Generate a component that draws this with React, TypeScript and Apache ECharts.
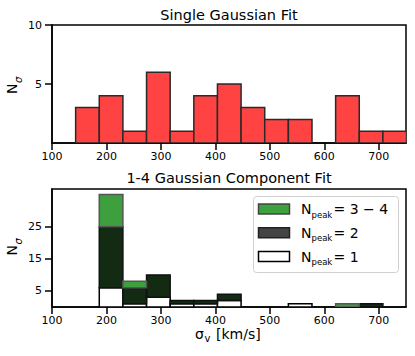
import React, { useEffect, useRef } from "react";
import * as echarts from "echarts";

// ---- data ----
const binStart = 143.4;
const binWidth = 43.4;
const singleCounts = [3, 4, 1, 6, 1, 4, 5, 3, 2, 2, 0, 4, 1, 1];
const npeak1 = [0, 6, 1, 3, 1, 1, 2, 0, 0, 1, 0, 0, 0, 0];
const npeak2 = [0, 19, 5, 7, 1, 1, 2, 0, 0, 0, 0, 0, 1, 0];
const npeak34 = [0, 10, 2, 0, 0, 0, 0, 0, 0, 0, 0, 1, 0, 0];
const xTicks = [100, 200, 300, 400, 500, 600, 700];
const topYTicks = [5, 10];
const bottomYTicks = [5, 15, 25];
const titles = ["Single Gaussian Fit", "1-4 Gaussian Component Fit"];
const legendValues = ["= 3 − 4", "= 2", "= 1"];

const FONT = "DejaVu Sans";

function layerData(counts: number[], base: number[]) {
  const out: number[][] = [];
  counts.forEach((c, i) => {
    if (c > 0) {
      const x0 = binStart + i * binWidth;
      out.push([x0, x0 + binWidth, base[i], base[i] + c]);
    }
  });
  return out;
}

function makeRender(fill: string, stroke: string, lw: number) {
  return (params: any, api: any) => {
    const p0 = api.coord([api.value(0), api.value(3)]);
    const p1 = api.coord([api.value(1), api.value(2)]);
    return {
      type: "rect",
      shape: { x: p0[0], y: p0[1], width: p1[0] - p0[0], height: p1[1] - p0[1] },
      style: { fill, stroke, lineWidth: lw },
    };
  };
}

export default function App() {
  const ref = useRef<HTMLDivElement>(null);
  useEffect(() => {
    if (!ref.current) return;
    const chart = echarts.init(ref.current, undefined, { renderer: "svg" });

    const zeros = singleCounts.map(() => 0);
    const base2 = npeak1.slice();
    const base3 = npeak1.map((v, i) => v + npeak2[i]);

    const axisCommonX = (gridIndex: number) => ({
      type: "value",
      gridIndex,
      min: 100,
      max: 750,
      axisLine: { show: true, lineStyle: { color: "#000", width: 1.5 } },
      axisTick: { show: true, customValues: xTicks, length: 7, lineStyle: { color: "#000", width: 1.5 } },
      axisLabel: { customValues: xTicks, color: "#000", fontSize: 11, fontFamily: FONT, margin: 8 },
      splitLine: { show: false },
    });
    const axisCommonY = (gridIndex: number, max: number, ticks: number[]) => ({
      type: "value",
      gridIndex,
      min: 0,
      max,
      axisLine: { show: true, lineStyle: { color: "#000", width: 1.5 } },
      axisTick: { show: true, customValues: ticks, length: 7, lineStyle: { color: "#000", width: 1.5 } },
      axisLabel: { customValues: ticks, color: "#000", fontSize: 11, fontFamily: FONT, margin: 10 },
      splitLine: { show: false },
    });

    const yLabel = (x: number, y: number) => ({
      type: "group",
      x,
      y,
      rotation: Math.PI / 2,
      children: [
        { type: "text", x: 0, y: 0, style: { text: "N", fontSize: 14, fontFamily: FONT, fill: "#000", verticalAlign: "middle", align: "left" } },
        { type: "text", x: 11, y: 6, style: { text: "σ", fontSize: 10, fontStyle: "italic", fontFamily: FONT, fill: "#000", verticalAlign: "middle", align: "left" } },
      ],
    });

    const legendRows = [
      { fill: "#3da23d", stroke: "#444" },
      { fill: "#444444", stroke: "#222" },
      { fill: "#ffffff", stroke: "#000" },
    ];
    const legendChildren: any[] = [
      { type: "rect", shape: { x: 253.5, y: 196.5, width: 145, height: 76, r: 3 }, style: { fill: "rgba(255,255,255,0.85)", stroke: "#d0d0d0", lineWidth: 1 } },
    ];
    legendRows.forEach((r, i) => {
      const cy = 209 + i * 23.8;
      legendChildren.push({ type: "rect", shape: { x: 258.5, y: cy - 5, width: 31, height: 10 }, style: { fill: r.fill, stroke: r.stroke, lineWidth: 1.5 } });
      legendChildren.push({ type: "text", x: 301, y: cy, style: { text: "N", fontSize: 14, fontFamily: FONT, fill: "#000", verticalAlign: "middle" } });
      legendChildren.push({ type: "text", x: 311.5, y: cy + 5.5, style: { text: "peak", fontSize: 8.5, fontFamily: FONT, fill: "#000", verticalAlign: "middle" } });
      legendChildren.push({ type: "text", x: 333.5, y: cy, style: { text: legendValues[i], fontSize: 14, fontFamily: FONT, fill: "#000", verticalAlign: "middle" } });
    });

    chart.setOption({
      animation: false,
      backgroundColor: "#fff",
      grid: [
        { left: 52, top: 25, width: 354, height: 118, show: true, borderColor: "#000", borderWidth: 1.5, backgroundColor: "transparent" },
        { left: 52, top: 189, width: 354, height: 118, show: true, borderColor: "#000", borderWidth: 1.5, backgroundColor: "transparent" },
      ],
      xAxis: [axisCommonX(0), axisCommonX(1)],
      yAxis: [axisCommonY(0, 10, topYTicks), axisCommonY(1, 36.75, bottomYTicks)],
      series: [
        {
          type: "custom",
          xAxisIndex: 0,
          yAxisIndex: 0,
          clip: true,
          encode: { x: [0, 1], y: [2, 3] },
          renderItem: makeRender("#ff4343", "#2a2a2a", 1.5),
          data: layerData(singleCounts, zeros),
        },
        {
          type: "custom",
          xAxisIndex: 1,
          yAxisIndex: 1,
          clip: true,
          encode: { x: [0, 1], y: [2, 3] },
          renderItem: makeRender("#ffffff", "#000", 1.5),
          data: layerData(npeak1, zeros),
        },
        {
          type: "custom",
          xAxisIndex: 1,
          yAxisIndex: 1,
          clip: true,
          encode: { x: [0, 1], y: [2, 3] },
          renderItem: makeRender("#132a13", "#111", 1.5),
          data: layerData(npeak2, base2),
        },
        {
          type: "custom",
          xAxisIndex: 1,
          yAxisIndex: 1,
          clip: true,
          encode: { x: [0, 1], y: [2, 3] },
          renderItem: makeRender("#3e9f3e", "#555", 1.5),
          data: layerData(npeak34, base3),
        },
      ],
      graphic: [
        { type: "text", x: 229, y: 15, style: { text: titles[0], fontSize: 14.5, fontFamily: FONT, fill: "#000", align: "center", verticalAlign: "middle" } },
        { type: "text", x: 229, y: 178, style: { text: titles[1], fontSize: 14.5, fontFamily: FONT, fill: "#000", align: "center", verticalAlign: "middle" } },
        yLabel(12, 94),
        yLabel(12, 255.5),
        { type: "text", x: 195, y: 333.5, style: { text: "σ", fontSize: 14, fontFamily: FONT, fill: "#000", verticalAlign: "middle" } },
        { type: "text", x: 204.5, y: 338.5, style: { text: "v", fontSize: 10, fontFamily: FONT, fill: "#000", verticalAlign: "middle" } },
        { type: "text", x: 216, y: 333.5, style: { text: "[km/s]", fontSize: 14, fontFamily: FONT, fill: "#000", verticalAlign: "middle" } },
        { type: "group", children: legendChildren },
      ],
    });
    return () => chart.dispose();
  }, []);
  return <div ref={ref} style={{ position: "fixed", left: 0, top: 0, width: 415, height: 356 }} />;
}
